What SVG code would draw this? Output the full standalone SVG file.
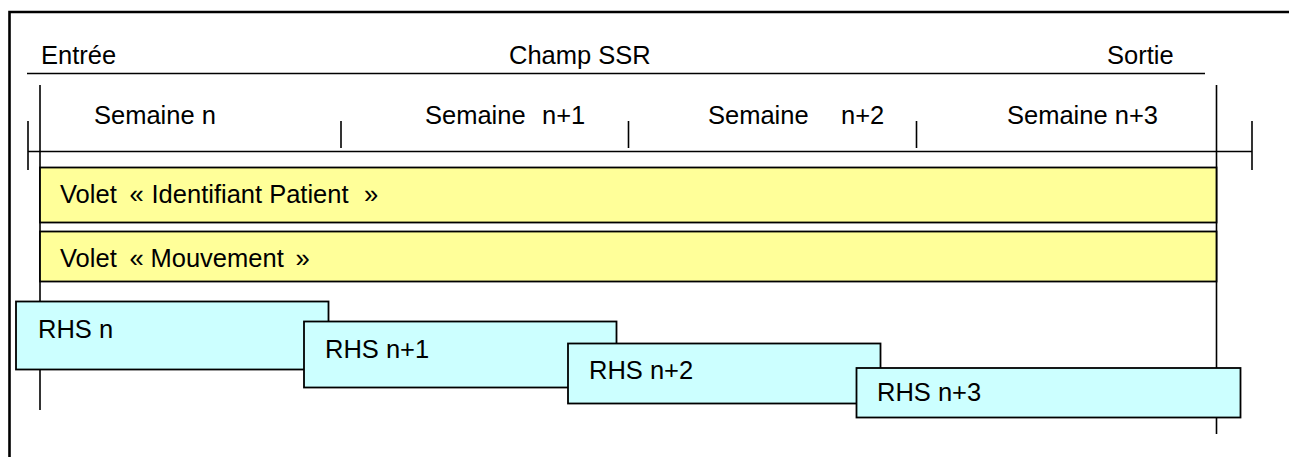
<svg xmlns="http://www.w3.org/2000/svg" width="1289" height="457" viewBox="0 0 1289 457">
  <style>
    text { font-family: "Liberation Sans", Arial, sans-serif; font-size: 25.5px; fill: #000; }
    .frame { fill: none; stroke: #000; stroke-width: 2.6; }
    .axis { fill: none; stroke: #000; stroke-width: 1.6; }
    .volet { fill: #FFFF99; stroke: #000; stroke-width: 1.8; }
    .rhs { fill: #CCFFFF; stroke: #000; stroke-width: 1.8; }
  </style>
  <rect width="1289" height="457" fill="#fff"/>

  <!-- outer frame (top and left edges) -->
  <path class="frame" d="M9.5 457 V12 H1289"/>

  <!-- timeline axes and ticks -->
  <g id="connectors">
    <line class="axis" x1="27" y1="73.5" x2="1205" y2="73.5"/>
    <line class="axis" x1="40" y1="85" x2="40" y2="410"/>
    <line class="axis" x1="1216.5" y1="85" x2="1216.5" y2="434"/>
    <line class="axis" x1="28" y1="151.5" x2="1252" y2="151.5"/>
    <line class="axis" x1="28" y1="121" x2="28" y2="170"/>
    <line class="axis" x1="1252" y1="121" x2="1252" y2="170"/>
    <line class="axis" x1="341" y1="121" x2="341" y2="148"/>
    <line class="axis" x1="628.5" y1="121" x2="628.5" y2="148"/>
    <line class="axis" x1="916.5" y1="121" x2="916.5" y2="148"/>
  </g>

  <!-- header labels -->
  <g id="header">
    <text x="41" y="64">Entrée</text>
    <text x="509" y="64">Champ SSR</text>
    <text x="1107" y="64">Sortie</text>
  </g>

  <!-- week labels -->
  <g id="weeks">
    <text x="94" y="124">Semaine n</text>
    <text x="425" y="124">Semaine <tspan x="542">n+1</tspan></text>
    <text x="708" y="124">Semaine <tspan x="841">n+2</tspan></text>
    <text x="1007" y="124">Semaine n+3</text>
  </g>

  <g id="volet-identifiant">
    <rect class="volet" x="40" y="167.5" width="1176.5" height="55"/>
    <text x="60" y="203">Volet <tspan x="129.5">«</tspan> <tspan x="151.5">Identifiant Patient</tspan> <tspan x="364">»</tspan></text>
  </g>

  <g id="volet-mouvement">
    <rect class="volet" x="40" y="231.5" width="1176.5" height="50"/>
    <text x="60" y="267">Volet <tspan x="129.5">«</tspan> <tspan x="150.5">Mouvement</tspan> <tspan x="295.5">»</tspan></text>
  </g>

  <g id="rhs-n">
    <rect class="rhs" x="16" y="301.5" width="312.5" height="68"/>
    <text x="38" y="338">RHS n</text>
  </g>

  <g id="rhs-n1">
    <rect class="rhs" x="304" y="321.5" width="312.5" height="66"/>
    <text x="325" y="358">RHS n+1</text>
  </g>

  <g id="rhs-n2">
    <rect class="rhs" x="568" y="343.5" width="312.5" height="60"/>
    <text x="589" y="379">RHS n+2</text>
  </g>

  <g id="rhs-n3">
    <rect class="rhs" x="856.5" y="368" width="384" height="49.5"/>
    <text x="877" y="401">RHS n+3</text>
  </g>
</svg>
